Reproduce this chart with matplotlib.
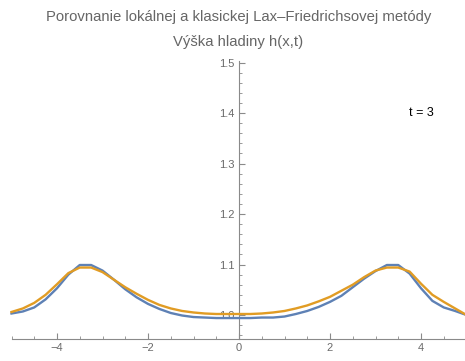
import numpy as np
import matplotlib
matplotlib.use('Agg')
import matplotlib.pyplot as plt
from matplotlib.ticker import MultipleLocator, FuncFormatter

plt.rcParams['font.family'] = ['Liberation Sans', 'DejaVu Sans']

# sample points (step 0.25)
x = np.linspace(-5, 5, 41)

# local Lax-Friedrichs (blue)
h_local = [1.003, 1.007, 1.015, 1.031, 1.053, 1.080, 1.099, 1.099, 1.088, 1.070,
           1.051, 1.035, 1.022, 1.012, 1.004, 0.999, 0.996, 0.995, 0.994, 0.994,
           0.994, 0.994, 0.995, 0.995, 0.997, 1.002, 1.008, 1.016, 1.026, 1.038,
           1.055, 1.072, 1.087, 1.099, 1.099, 1.082, 1.053, 1.028, 1.015, 1.008,
           1.000]

# classic Lax-Friedrichs (orange)
h_classic = [1.006, 1.013, 1.024, 1.040, 1.061, 1.083, 1.094, 1.094, 1.085, 1.070,
             1.055, 1.042, 1.030, 1.020, 1.013, 1.008, 1.005, 1.003, 1.002, 1.002,
             1.002, 1.002, 1.003, 1.005, 1.008, 1.013, 1.019, 1.027, 1.036, 1.048,
             1.060, 1.075, 1.088, 1.094, 1.094, 1.086, 1.062, 1.040, 1.026, 1.013,
             1.000]

title1 = "Porovnanie lokálnej a klasickej Lax\u2013Friedrichsovej metódy"
title2 = "Výška hladiny h(x,t)"

W, H = 465, 361
fig = plt.figure(figsize=(W / 100, H / 100), dpi=100)
ax = fig.add_axes([11.5 / W, (H - 339) / H, 455 / W, (339 - 61) / H])

ax.plot(x, h_local, color='#5E81B5', lw=1.7, clip_on=False, zorder=3)
ax.plot(x, h_classic, color='#E19C24', lw=1.7, clip_on=False, zorder=4)

ax.set_xlim(-5, 5)
ax.set_ylim(0.9525, 1.503)

# Mathematica-like axes: y axis at x=0, x axis at bottom
axis_col = '#8a8a8a'
ax.spines['left'].set_position(('data', 0))
ax.spines['top'].set_visible(False)
ax.spines['right'].set_visible(False)
for s in ('left', 'bottom'):
    ax.spines[s].set_color(axis_col)
    ax.spines[s].set_linewidth(0.8)
    ax.spines[s].set_zorder(1)

ax.xaxis.set_major_locator(MultipleLocator(2))
ax.xaxis.set_minor_locator(MultipleLocator(0.5))
ax.yaxis.set_major_locator(MultipleLocator(0.1))
ax.yaxis.set_minor_locator(MultipleLocator(0.02))

ax.xaxis.set_major_formatter(FuncFormatter(lambda v, p: f"{v:.0f}".replace('-', '\u2212')))
ax.yaxis.set_major_formatter(FuncFormatter(lambda v, p: f"{v:.1f}"))

ax.tick_params(which='both', direction='in', color=axis_col, labelcolor='#6a6a6a',
               labelsize=8)
ax.tick_params(which='major', length=4, width=0.8)
ax.tick_params(which='minor', length=2, width=0.6)
ax.tick_params(axis='x', pad=3)
ax.tick_params(axis='y', pad=3)

ax.text(4, 1.4, "t = 3", fontsize=9, color='black', ha='center', va='center')

fig.text(238.5 / W, 1 - 17 / H, title1, fontsize=10.7, color='#666666',
         ha='center', va='center')
fig.text(238.5 / W, 1 - 42 / H, title2, fontsize=10.7, color='#666666',
         ha='center', va='center')

fig.savefig('out.png', dpi=100)
